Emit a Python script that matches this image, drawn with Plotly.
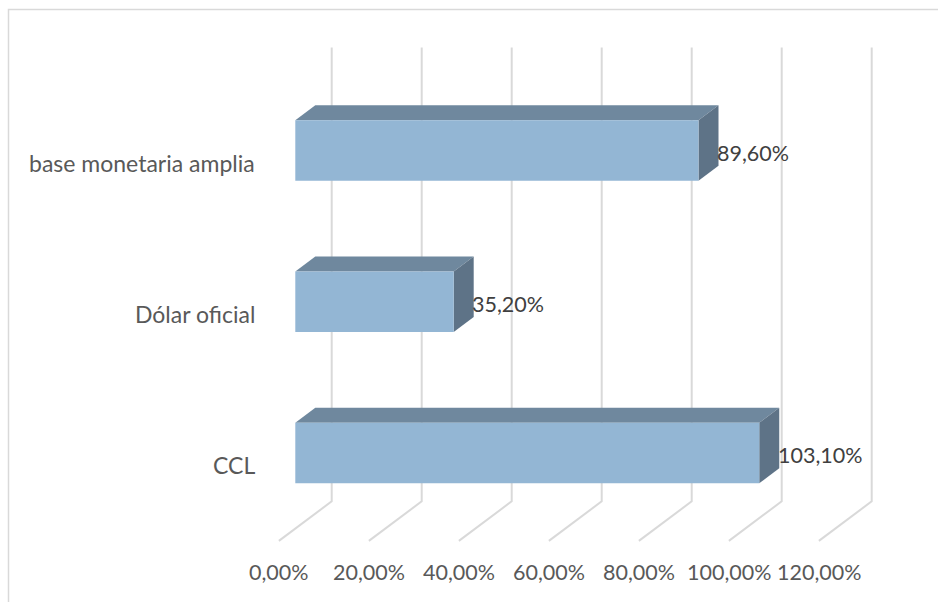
import plotly.graph_objects as go

# ---- data ----
categories = ["CCL", "Dólar oficial", "base monetaria amplia"]   # bottom -> top
values = [103.1, 35.2, 89.6]                                      # percent
value_labels = ["103,10%", "35,20%", "89,60%"]
tick_values = [0, 20, 40, 60, 80, 100, 120]
tick_labels = ["0,00%", "20,00%", "40,00%", "60,00%", "80,00%", "100,00%", "120,00%"]

# ---- style / pseudo-3D projection constants ----
W, H = 938, 602
PX_PER_PCT = 4.5          # horizontal pixels per percent
PX_PER_CAT = 151.25       # vertical pixels per category step
X0_PX = 295.3             # screen x of 0% on the bar front plane
Y0_PX = 453.0             # screen y of first category center on the bar front plane
SLOPE = 0.75              # dy/dx of depth direction
D_FLOOR = -16.4           # depth offsets (px in x) relative to bar front plane
D_BARBACK = 20.0
D_WALL = 36.4
BAR_H = 0.40              # bar thickness in category units

FRONT = "#93B6D4"
TOP = "#6F889E"
SIDE = "#5E7387"
GRID = "#D9D9D9"
FONT = "Lato"
CAT_SIZE = 23
NUM_SIZE = 21.5


def proj(v, k, d):
    """project (value, category, depth_px) into the 2-D data coordinates."""
    return v + d / PX_PER_PCT, k + SLOPE * d / PX_PER_CAT


fig = go.Figure()

# gridlines: back wall verticals + floor diagonals
gx, gy = [], []
for t in tick_values:
    for (v, k, d) in [(t, 2.5, D_WALL), (t, -0.5, D_WALL), (t, -0.5, D_FLOOR)]:
        x, y = proj(v, k, d)
        gx.append(x)
        gy.append(y)
    gx.append(None)
    gy.append(None)
fig.add_trace(go.Scatter(x=gx, y=gy, mode="lines", line=dict(color=GRID, width=2),
                         hoverinfo="skip", showlegend=False, zorder=0))

# bar top and side faces
for k, v in enumerate(values):
    top = k + BAR_H / 2
    bot = k - BAR_H / 2
    pts = [proj(0, top, 0), proj(v, top, 0), proj(v, top, D_BARBACK), proj(0, top, D_BARBACK), proj(0, top, 0)]
    fig.add_trace(go.Scatter(x=[p[0] for p in pts], y=[p[1] for p in pts], mode="lines",
                             fill="toself", fillcolor=TOP, line=dict(width=0, color=TOP),
                             hoverinfo="skip", showlegend=False, zorder=1))
    pts = [proj(v, bot, 0), proj(v, top, 0), proj(v, top, D_BARBACK), proj(v, bot, D_BARBACK), proj(v, bot, 0)]
    fig.add_trace(go.Scatter(x=[p[0] for p in pts], y=[p[1] for p in pts], mode="lines",
                             fill="toself", fillcolor=SIDE, line=dict(width=0, color=SIDE),
                             hoverinfo="skip", showlegend=False, zorder=1))

# bar front faces
fig.add_trace(go.Bar(x=values, y=list(range(len(categories))), orientation="h", width=BAR_H,
                     marker=dict(color=FRONT, line=dict(width=0)), hoverinfo="skip",
                     showlegend=False, zorder=2))

annotations = []
# data labels
for k, (v, lab) in enumerate(zip(values, value_labels)):
    annotations.append(dict(x=v, y=k, xref="x", yref="y", text=lab, showarrow=False,
                            xanchor="left", yanchor="middle", xshift=16.7, yshift=-2,
                            font=dict(family=FONT, size=NUM_SIZE, color="#404040")))
# category labels
for k, c in enumerate(categories):
    x, y = proj(0, k, D_FLOOR)
    annotations.append(dict(x=x, y=y, xref="x", yref="y", text=c, showarrow=False,
                            xanchor="right", yanchor="middle", xshift=-22, yshift=0,
                            font=dict(family=FONT, size=CAT_SIZE, color="#595959")))
# value axis labels
for t, lab in zip(tick_values, tick_labels):
    x, y = proj(t, -0.5, D_FLOOR)
    annotations.append(dict(x=x, y=y, xref="x", yref="y", text=lab, showarrow=False,
                            xanchor="center", yanchor="middle", yshift=-31,
                            font=dict(family=FONT, size=NUM_SIZE, color="#595959")))

fig.update_layout(
    width=W, height=H,
    margin=dict(l=0, r=0, t=0, b=0),
    paper_bgcolor="white", plot_bgcolor="white",
    xaxis=dict(range=[-X0_PX / PX_PER_PCT, (W - X0_PX) / PX_PER_PCT], visible=False,
               showgrid=False, zeroline=False, fixedrange=True),
    yaxis=dict(range=[(Y0_PX - H) / PX_PER_CAT, Y0_PX / PX_PER_CAT], visible=False,
               showgrid=False, zeroline=False, fixedrange=True),
    annotations=annotations,
    shapes=[dict(type="rect", xref="paper", yref="paper",
                 x0=8.5 / W, x1=(W + 10) / W, y0=-10 / H, y1=1 - 9.5 / H,
                 line=dict(color="#D9D9D9", width=1.5), fillcolor="rgba(0,0,0,0)", layer="below")],
    barmode="overlay",
)

fig.write_html("out.html")
